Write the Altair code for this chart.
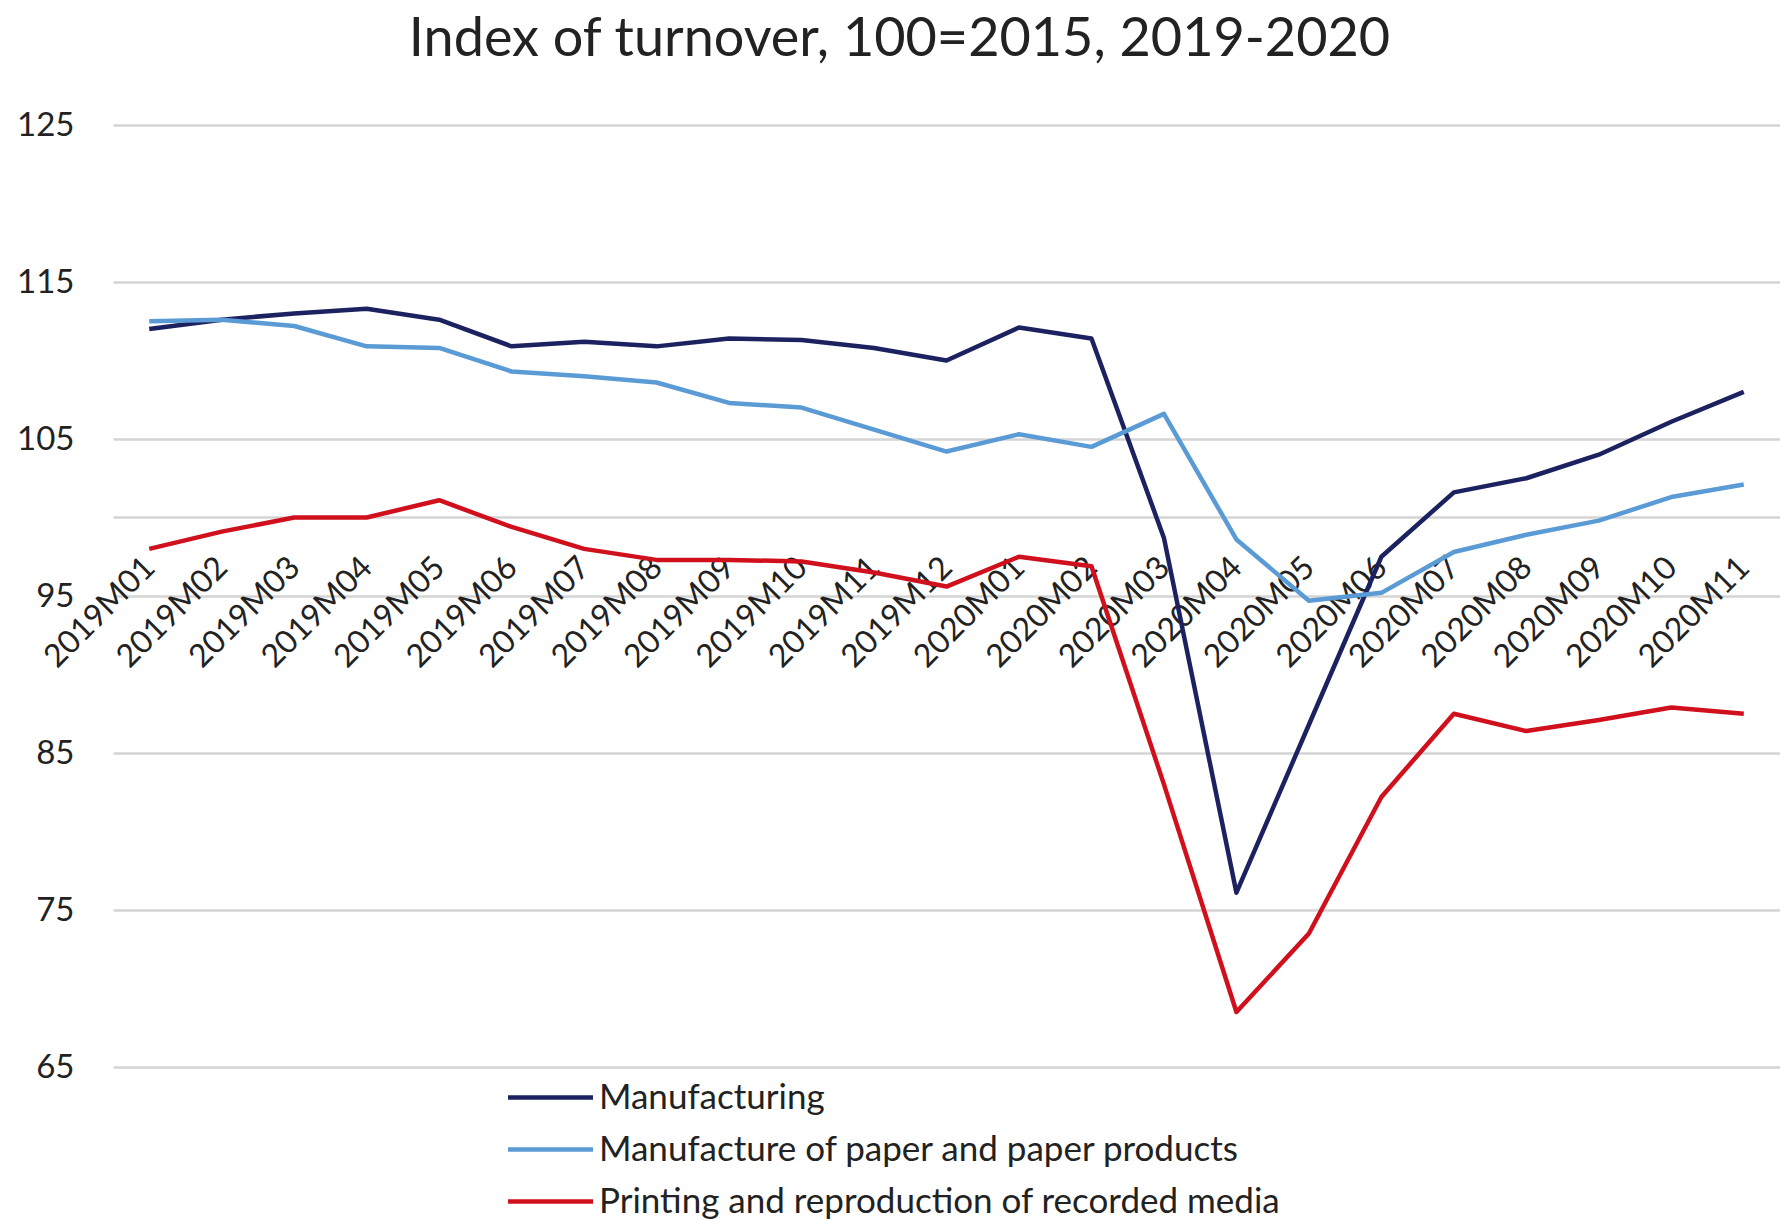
import altair as alt
import pandas as pd

months = [
    "2019M01", "2019M02", "2019M03", "2019M04", "2019M05", "2019M06",
    "2019M07", "2019M08", "2019M09", "2019M10", "2019M11", "2019M12",
    "2020M01", "2020M02", "2020M03", "2020M04", "2020M05", "2020M06",
    "2020M07", "2020M08", "2020M09", "2020M10", "2020M11",
]
manufacturing = [112.0, 112.6, 113.0, 113.3, 112.6, 110.9, 111.2, 110.9, 111.4, 111.3, 110.8, 110.0,
                 112.1, 111.4, 98.7, 76.1, 86.8, 97.5, 101.6, 102.5, 104.0, 106.1, 108.0]
paper = [112.5, 112.6, 112.2, 110.9, 110.8, 109.3, 109.0, 108.6, 107.3, 107.0, 105.6, 104.2,
         105.3, 104.5, 106.6, 98.6, 94.7, 95.2, 97.8, 98.9, 99.8, 101.3, 102.1]
printing = [98.0, 99.1, 100.0, 100.0, 101.1, 99.4, 98.0, 97.3, 97.3, 97.2, 96.5, 95.6,
            97.5, 96.9, 83.0, 68.5, 73.5, 82.2, 87.5, 86.4, 87.1, 87.9, 87.5]

series_names = [
    "Manufacturing",
    "Manufacture of paper and paper products",
    "Printing and reproduction of recorded media",
]
series_colors = ["#1c2260", "#5b9bd5", "#d0101c"]
y_ticks = [65, 75, 85, 95, 100, 105, 115, 125]
title_text = "Index of turnover, 100=2015, 2019-2020"

rows = []
for name, vals in zip(series_names, [manufacturing, paper, printing]):
    for m, v in zip(months, vals):
        rows.append({"month": m, "series": name, "value": v})
df = pd.DataFrame(rows)

FONT = "Lato"
TXT = "#222222"

chart = alt.Chart(df).mark_line(strokeWidth=4.5, strokeJoin="round").encode(
    x=alt.X(
        "month:N", sort=months,
        scale=alt.Scale(type="point", padding=0.5),
        axis=alt.Axis(title=None, labelAngle=315, labelAlign="right", labelBaseline="middle",
                      labelPadding=0, ticks=False, domain=False, offset=-505, grid=False,
                      labelFontSize=32, labelFont=FONT, labelColor=TXT),
    ),
    y=alt.Y(
        "value:Q",
        scale=alt.Scale(domain=[65, 125], nice=False, zero=False),
        axis=alt.Axis(title=None, values=y_ticks,
                      labelExpr="datum.value == 100 ? '' : datum.label",
                      gridColor="#d4d4d4", gridWidth=2.5, domain=False, ticks=False,
                      labelPadding=39, labelFontSize=33, labelFont=FONT, labelColor=TXT),
    ),
    color=alt.Color(
        "series:N", sort=series_names,
        scale=alt.Scale(domain=series_names, range=series_colors),
        legend=alt.Legend(title=None, orient="none", legendX=420, legendY=955,
                          direction="vertical", symbolType="M-3,0H3", symbolSize=803,
                          symbolStrokeWidth=4.5, labelFontSize=35, labelFont=FONT,
                          labelColor=TXT, rowPadding=16, labelOffset=31, padding=0,
                          labelLimit=0),
    ),
).properties(
    width=1667, height=942,
    background="white",
    title=alt.TitleParams(text=title_text, font=FONT, fontSize=54, fontWeight="normal",
                          color=TXT, anchor="middle", dx=-47, offset=42),
    autosize="none",
    padding={"left": 113, "top": 125, "right": 0, "bottom": 154},
).configure_view(strokeWidth=0, stroke="transparent")

chart.save("out.html", embed_options={"renderer": "svg", "actions": False})
